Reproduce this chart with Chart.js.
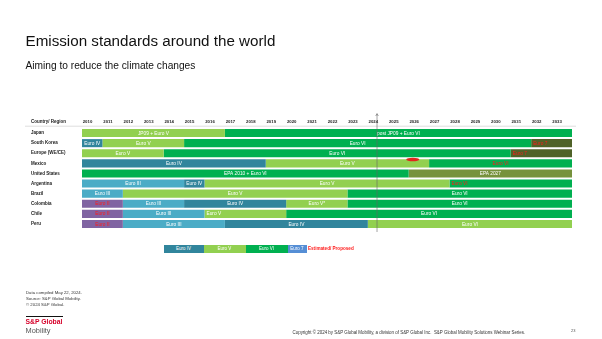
<!DOCTYPE html>
<html><head><meta charset="utf-8">
<script src="https://cdn.jsdelivr.net/npm/chart.js@4"></script>
<style>
html,body{margin:0;padding:0;background:#fff;}
body{width:602px;height:339px;position:relative;overflow:hidden;font-family:"Liberation Sans",Arial,sans-serif;}
#c{position:absolute;left:0;top:0;}
.t{position:absolute;white-space:nowrap;line-height:1;}
.sw{position:absolute;top:245px;height:7.5px;color:#fff;font-size:4.5px;line-height:7.5px;text-align:center;}
</style></head><body>
<canvas id="c" width="602" height="339"></canvas>
<div class="t" style="left:25.5px;top:33.2px;font-size:15.2px;color:#111;">Emission standards around the world</div>
<div class="t" style="left:25.5px;top:60.8px;font-size:10.2px;color:#111;">Aiming to reduce the climate changes</div>
<div class="t" style="left:31px;top:119.8px;font-size:4.5px;font-weight:bold;color:#222;">Country/ Region</div>
<div id="legend"></div>
<div class="t" style="left:26px;top:290.5px;font-size:4.3px;color:#333;">Data compiled May 22, 2024.</div>
<div class="t" style="left:26px;top:297px;font-size:4.3px;color:#333;">Source: S&amp;P Global Mobility.</div>
<div class="t" style="left:26px;top:303.3px;font-size:4.3px;color:#333;">© 2024 S&amp;P Global.</div>
<div style="position:absolute;left:26px;top:316px;width:37px;height:1px;background:#111;"></div>
<div class="t" style="left:25.5px;top:319px;font-size:6.8px;font-weight:bold;color:#d6002a;">S&amp;P Global</div>
<div class="t" style="left:25.5px;top:327px;font-size:7.4px;color:#555;">Mobility</div>
<div class="t" style="left:292.5px;top:331.2px;font-size:4.45px;color:#333;">Copyright © 2024 by S&amp;P Global Mobility, a division of S&amp;P Global Inc.&nbsp; S&amp;P Global Mobility Solutions Webinar Series.</div>
<div class="t" style="left:571px;top:328.8px;font-size:4px;color:#555;">23</div>
<script>
// ---------- data ----------
const countries = ['Japan','South Korea','Europe (WE/CE)','Mexico','United States','Argentina','Brazil','Colombia','Chile','Peru'];
const years = [2010,2011,2012,2013,2014,2015,2016,2017,2018,2019,2020,2021,2022,2023,2024,2025,2026,2027,2028,2029,2030,2031,2032,2033];
const yearLabels = years.map(String);

const euro2 = [null,null,null,null,null,null,null,[2010,2012],[2010,2012],[2010,2012]];
const euro2Labels = ['','','','','','','','Euro II','Euro II','Euro II'];
const euro2Estimated = [false,false,false,false,false,false,false,true,true,true];

const euro3 = [null,null,null,null,null,[2010,2015],[2010,2012],[2012,2015],[2012,2016],[2012,2017]];
const euro3Labels = ['','','','','','Euro III','Euro III','Euro III','Euro III','Euro III'];

const euro4 = [null,[2010,2011],null,[2010,2019],null,[2015,2016],null,[2015,2020],null,[2017,2024]];
const euro4Labels = ['','Euro IV','','Euro IV','','Euro IV','','Euro IV','','Euro IV'];

const euro5 = [[2010,2017],[2011,2015],[2010,2014],[2019,2027],null,[2016,2028],[2012,2023],[2020,2023],[2016,2020],[2024,2034]];
const euro5Labels = ['JP09 + Euro V','Euro V','Euro V','Euro V','','Euro V','Euro V','Euro V*','Euro V','Euro VI'];

const euro6 = [[2017,2034],[2015,2032],[2014,2031],[2027,2034],[2010,2026],[2028,2034],[2023,2034],[2023,2034],[2020,2034],null];
const euro6Labels = ['post JP09 + Euro VI','Euro VI','Euro VI','Euro VI','EPA 2010 + Euro VI','Euro VI','Euro VI','Euro VI','Euro VI',''];
const euro6Estimated = [false,false,false,true,false,true,false,false,false,false];

const euro7 = [null,[2032,2034],[2031,2034],null,[2026,2034],null,null,null,null,null];
const euro7Labels = ['','Euro 7','Euro 7','','EPA 2027','','','','',''];
const euro7Estimated = [false,true,true,false,false,false,false,false,false,false];

const legendItems = ['Euro IV','Euro V','Euro VI','Euro 7'];
const nowYear = 2024.45;           // "today" marker
const highlightRow = 'Mexico', highlightYear = 2026.2;

// ---------- styles ----------
const C = {purple:'#8064A2', lblue:'#4BACC6', teal:'#31859C', lgreen:'#92D050', green:'#00B050',
           olive:'#4F6228', olive2:'#76923C', blue7:'#558ED5', red:'#FF1A1A'};
// [country|datasetIndex] segments whose label sits at the segment start
const leftAligned = {'Argentina|4':true,'South Korea|5':true,'Europe (WE/CE)|5':true,'Chile|3':true};

// legend (html)
const legendColors = [C.teal, C.lgreen, C.green, C.blue7];
const legendWidths = [40, 42, 42, 19];
let lx = 163.5, lg = document.getElementById('legend');
legendItems.forEach((name,i)=>{
  const d=document.createElement('div'); d.className='sw';
  d.style.left=lx+'px'; d.style.width=legendWidths[i]+'px'; d.style.background=legendColors[i];
  d.textContent=name; lg.appendChild(d); lx+=legendWidths[i];
});
const est=document.createElement('div'); est.className='t';
est.style.cssText='left:'+(lx+1.5)+'px;top:246.6px;font-size:4.6px;font-weight:bold;color:#FF1A1A;';
est.textContent='Estimated/ Proposed'; lg.appendChild(est);

function ds(label,data,color,labels,estimated){
  return {label,data,backgroundColor:color,segLabels:labels,segEstimated:estimated||[],
          grouped:false,barPercentage:0.8,categoryPercentage:1,borderWidth:0,borderSkipped:false};
}
const datasets = [
  ds('Euro II',euro2,C.purple,euro2Labels,euro2Estimated),
  ds('Euro III',euro3,C.lblue,euro3Labels),
  ds('Euro IV',euro4,C.teal,euro4Labels),
  ds('Euro V',euro5,C.lgreen,euro5Labels),
  ds('Euro VI',euro6,C.green,euro6Labels,euro6Estimated),
  ds('Euro 7',euro7,countries.map(c=>c==='United States'?C.olive2:C.olive),euro7Labels,euro7Estimated)
];

const overlay = {
  id:'overlay',
  beforeDatasetsDraw(chart){
    const ctx=chart.ctx, a=chart.chartArea;
    ctx.save(); ctx.strokeStyle='#c8c8c8'; ctx.lineWidth=0.6;
    ctx.beginPath(); ctx.moveTo(25,a.top-1.8); ctx.lineTo(a.right+4,a.top-1.8); ctx.stroke(); ctx.restore();
  },
  afterDatasetsDraw(chart){
    const ctx=chart.ctx, a=chart.chartArea, xs=chart.scales.x, ys=chart.scales.y;
    ctx.save();
    ctx.font='4.8px "Liberation Sans", Arial, sans-serif';
    ctx.textBaseline='middle';
    chart.data.datasets.forEach((d,di)=>{
      const meta=chart.getDatasetMeta(di);
      meta.data.forEach((el,i)=>{
        const txt=d.segLabels[i]; if(!txt||!d.data[i]) return;
        const x0=Math.min(el.x,el.base), x1=Math.max(el.x,el.base);
        ctx.fillStyle=d.segEstimated[i]?C.red:'#fff';
        if(leftAligned[countries[i]+'|'+di]){ctx.textAlign='left';ctx.fillText(txt,x0+2,el.y+0.3);}
        else {ctx.textAlign='center';ctx.fillText(txt,(x0+x1)/2,el.y+0.3);}
      });
    });
    // today line
    const nx=xs.getPixelForValue(nowYear);
    ctx.strokeStyle='#666'; ctx.lineWidth=0.6;
    ctx.beginPath(); ctx.moveTo(nx,a.top-14); ctx.lineTo(nx,a.bottom+3); ctx.stroke();
    ctx.beginPath(); ctx.moveTo(nx-1.3,a.top-12); ctx.lineTo(nx,a.top-14.5); ctx.lineTo(nx+1.3,a.top-12); ctx.stroke();
    // highlight oval
    const hy=ys.getPixelForValue(countries.indexOf(highlightRow));
    ctx.fillStyle='#e0261c';
    ctx.beginPath(); ctx.ellipse(xs.getPixelForValue(highlightYear),hy-3.8,6.5,1.8,0,0,Math.PI*2); ctx.fill();
    ctx.restore();
  }
};

new Chart(document.getElementById('c'),{
  type:'bar',
  data:{labels:countries,datasets},
  options:{
    indexAxis:'y', responsive:false, animation:false, devicePixelRatio:1,
    layout:{padding:{left:31,right:30,top:116,bottom:110}},
    plugins:{legend:{display:false},tooltip:{enabled:false}},
    scales:{
      x:{type:'linear',position:'top',min:2010,max:2034,
         grid:{display:false,drawTicks:false},border:{display:false},
         afterBuildTicks(s){s.ticks=years.map(y=>({value:y+0.27}));},
         afterFit(s){s.height=12;},
         ticks:{autoSkip:false,maxRotation:0,padding:3.2,color:'#222',
                font:{size:4.3,weight:'bold',family:'"Liberation Sans", Arial, sans-serif'},
                callback:(v,i)=>yearLabels[i]}},
      y:{type:'category',grid:{display:false,drawTicks:false},border:{display:false},
         afterFit(s){s.width=51;},
         ticks:{crossAlign:'far',padding:0,color:'#222',autoSkip:false,
                font:{size:4.5,weight:'bold',family:'"Liberation Sans", Arial, sans-serif'}}}
    }
  },
  plugins:[overlay]
});
</script>
</body></html>
